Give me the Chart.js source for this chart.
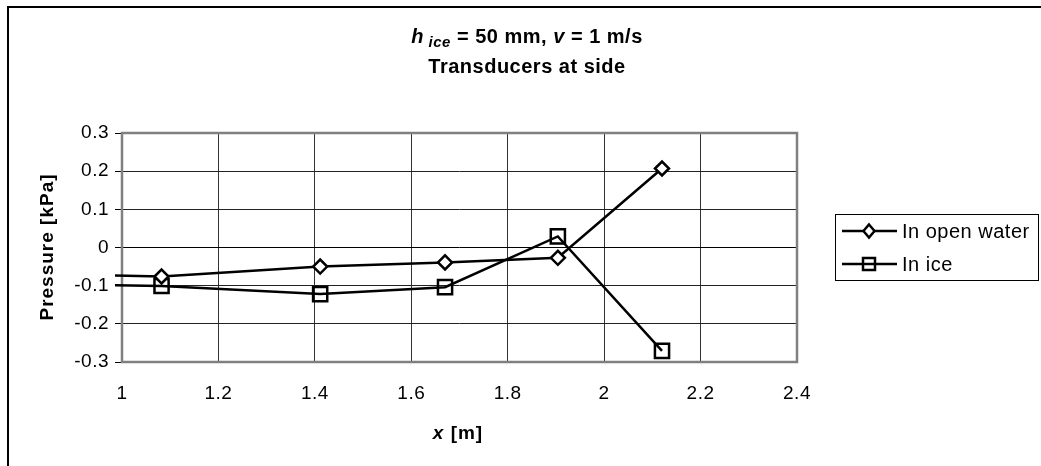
<!DOCTYPE html>
<html>
<head>
<meta charset="utf-8">
<script src="https://cdn.jsdelivr.net/npm/chart.js@4/dist/chart.umd.min.js"></script>
<style>
  html, body { margin: 0; padding: 0; background: #fff; }
  canvas { display: block; }
</style>
</head>
<body>
<canvas id="pressureChart" width="1041" height="466"></canvas>
<script>
// transducer positions [m]; the first one lies left of the axis and gets clipped
const positions = [0.75, 1.082, 1.411, 1.670, 1.904, 2.120];
const openWater = [-0.068, -0.076, -0.050, -0.039, -0.027, 0.207];
const inIce = [-0.093, -0.101, -0.122, -0.104, 0.029, -0.271];
const xTicks = [1, 1.2, 1.4, 1.6, 1.8, 2, 2.2, 2.4];
const yTicks = [-0.3, -0.2, -0.1, 0, 0.1, 0.2, 0.3];
const seriesNames = ['In open water', 'In ice'];

const FONT = '"Liberation Sans", Arial, sans-serif';
const TICK_SPACING = '0.5px';

function points(xs, ys) {
  return xs.map((x, i) => ({ x, y: ys[i] }));
}

// draws a row of differently styled text pieces centred on cx
function drawRuns(ctx, runs, cx, baseline) {
  let total = 0;
  runs.forEach(r => { ctx.font = r.font; r.w = ctx.measureText(r.text).width; total += r.w; });
  let x = cx - total / 2;
  runs.forEach(r => {
    ctx.font = r.font;
    ctx.fillText(r.text, x, baseline + (r.dy || 0));
    x += r.w;
  });
}

function drawMarker(ctx, style, x, y) {
  ctx.beginPath();
  if (style === 'rectRot') {
    ctx.moveTo(x, y - 6.5); ctx.lineTo(x + 5.5, y); ctx.lineTo(x, y + 6.5); ctx.lineTo(x - 5.5, y);
    ctx.closePath();
    ctx.fillStyle = '#fff';
    ctx.fill();
  } else {
    ctx.rect(x - 6, y - 6, 12, 12);
  }
  ctx.lineWidth = 2.5;
  ctx.strokeStyle = '#000';
  ctx.stroke();
}

const excelLook = {
  id: 'excelLook',
  beforeUpdate(chart) {
    chart.ctx.letterSpacing = TICK_SPACING;
  },
  beforeDraw(chart) {
    const ctx = chart.ctx;
    ctx.save();
    ctx.fillStyle = '#fff';
    ctx.fillRect(0, 0, chart.width, chart.height);
    // outer chart frame (cut off at right and bottom)
    ctx.strokeStyle = '#000';
    ctx.lineWidth = 2;
    ctx.beginPath();
    ctx.moveTo(8, chart.height + 2);
    ctx.lineTo(8, 7);
    ctx.lineTo(chart.width + 2, 7);
    ctx.stroke();
    ctx.restore();
    ctx.letterSpacing = TICK_SPACING;
  },
  beforeDatasetsDraw(chart) {
    const { ctx, chartArea: a } = chart;
    ctx.save();
    ctx.strokeStyle = '#808080';
    ctx.lineWidth = 2.5;
    ctx.strokeRect(a.left, a.top, a.right - a.left, a.bottom - a.top);
    ctx.restore();
  },
  afterDraw(chart) {
    const ctx = chart.ctx;
    ctx.save();
    ctx.fillStyle = '#000';
    ctx.textAlign = 'left';
    ctx.textBaseline = 'alphabetic';
    ctx.letterSpacing = '0.5px';

    drawRuns(ctx, [
      { text: 'h', font: `italic bold 20px ${FONT}` },
      { text: ' ice', font: `italic bold 15px ${FONT}`, dy: 3.5 },
      { text: ' = 50 mm, ', font: `bold 20px ${FONT}` },
      { text: 'v', font: `italic bold 20px ${FONT}` },
      { text: ' = 1 m/s', font: `bold 20px ${FONT}` },
    ], 527, 43);
    drawRuns(ctx, [{ text: 'Transducers at side', font: `bold 20px ${FONT}` }], 527, 72.5);

    ctx.letterSpacing = '1px';
    drawRuns(ctx, [
      { text: 'x', font: `italic bold 19px ${FONT}` },
      { text: ' [m]', font: `bold 19px ${FONT}` },
    ], 458, 439);

    ctx.save();
    ctx.translate(53, 247);
    ctx.rotate(-Math.PI / 2);
    drawRuns(ctx, [{ text: 'Pressure [kPa]', font: `bold 19px ${FONT}` }], 0, 0);
    ctx.restore();

    // legend box
    ctx.strokeStyle = '#000';
    ctx.lineWidth = 1;
    ctx.strokeRect(835.5, 214.5, 203, 66);
    const rows = [231, 264];
    chart.data.datasets.forEach((ds, i) => {
      const y = rows[i];
      ctx.beginPath();
      ctx.moveTo(842, y);
      ctx.lineTo(897, y);
      ctx.lineWidth = 2.5;
      ctx.strokeStyle = '#000';
      ctx.stroke();
      drawMarker(ctx, ds.pointStyle, 869, y);
      ctx.fillStyle = '#000';
      ctx.letterSpacing = '0.5px';
      ctx.font = `20px ${FONT}`;
      ctx.textBaseline = 'middle';
      ctx.fillText(ds.label, 902, y + 1);
    });
    ctx.restore();
  },
};

new Chart(document.getElementById('pressureChart'), {
  type: 'line',
  data: {
    datasets: [
      {
        label: seriesNames[0],
        data: points(positions, openWater),
        borderColor: '#000',
        borderWidth: 2.5,
        pointStyle: 'rectRot',
        pointRadius: 7,
        pointBorderWidth: 2.5,
        pointBorderColor: '#000',
        pointBackgroundColor: '#fff',
        clip: { left: 7, top: 4, right: 4, bottom: 4 },
      },
      {
        label: seriesNames[1],
        data: points(positions, inIce),
        borderColor: '#000',
        borderWidth: 2.5,
        pointStyle: 'rect',
        pointRadius: 10,
        pointBorderWidth: 2.5,
        pointBorderColor: '#000',
        pointBackgroundColor: 'rgba(0,0,0,0)',
        clip: { left: 7, top: 4, right: 4, bottom: 4 },
      },
    ],
  },
  options: {
    responsive: false,
    animation: false,
    devicePixelRatio: 1,
    layout: { padding: { left: 0, top: 133, right: 244, bottom: 0 } },
    elements: { line: { tension: 0 } },
    plugins: {
      legend: { display: false },
      title: { display: false },
      tooltip: { enabled: false },
    },
    scales: {
      x: {
        type: 'linear',
        min: xTicks[0],
        max: xTicks[xTicks.length - 1],
        afterBuildTicks: s => { s.ticks = xTicks.map(v => ({ value: v })); },
        afterFit: s => { s.height = 104; },
        border: { display: false },
        grid: { color: '#333', lineWidth: 1, drawTicks: false },
        ticks: {
          padding: 20,
          color: '#000',
          font: { family: FONT, size: 19 },
          callback: v => String(v),
        },
      },
      y: {
        type: 'linear',
        min: yTicks[0],
        max: yTicks[yTicks.length - 1],
        afterBuildTicks: s => { s.ticks = yTicks.map(v => ({ value: v })); },
        afterFit: s => { s.width = 122; },
        border: { display: false },
        grid: {
          color: c => (c.tick && c.tick.value === 0 ? '#000' : '#222'),
          lineWidth: 1,
          tickColor: '#000',
          tickLength: 7,
        },
        ticks: {
          padding: 6,
          color: '#000',
          font: { family: FONT, size: 19 },
          callback: v => String(v),
        },
      },
    },
  },
  plugins: [excelLook],
});
</script>
</body>
</html>
